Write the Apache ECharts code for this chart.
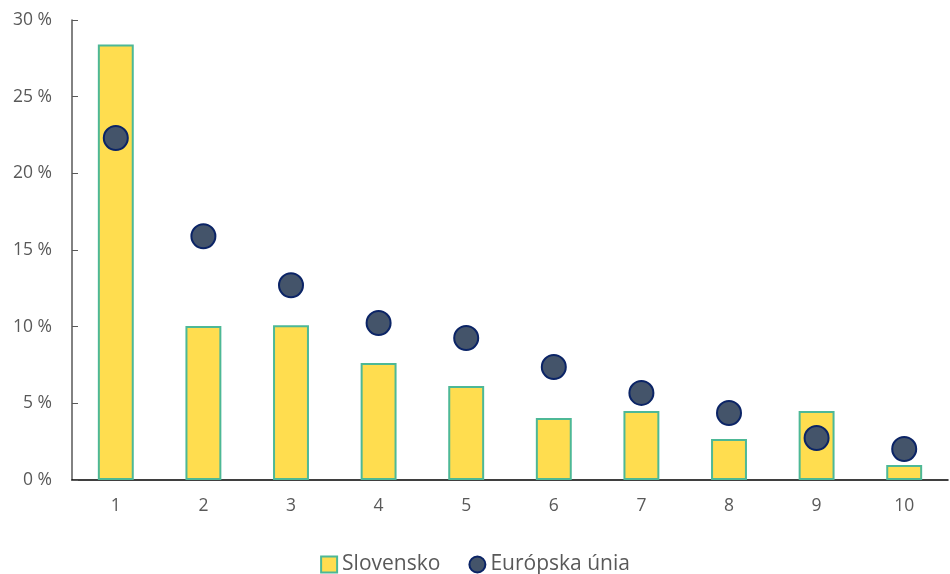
<!DOCTYPE html>
<html>
<head>
<meta charset="utf-8">
<script src="https://cdn.jsdelivr.net/npm/echarts@6/dist/echarts.min.js"></script>
<style>
  html, body { margin: 0; padding: 0; background: #fff; }
  #chart { width: 950px; height: 574px; }
</style>
</head>
<body>
<div id="chart"></div>
<script>
const categories = ['1', '2', '3', '4', '5', '6', '7', '8', '9', '10'];
const slovensko = [28.4, 10.05, 10.1, 7.63, 6.13, 4.04, 4.5, 2.67, 4.5, 0.98];
const eu = [22.3, 15.9, 12.7, 10.24, 9.26, 7.37, 5.68, 4.37, 2.74, 2.02];
const yTicks = [0, 5, 10, 15, 20, 25, 30];

const font = '"Open Sans", "Noto Sans", sans-serif';
const chart = echarts.init(document.getElementById('chart'));

chart.setOption({
  animation: false,
  textStyle: { fontFamily: font },
  grid: { left: 72, right: 2, top: 20, bottom: 94, containLabel: false },
  legend: {
    top: 549,
    left: 'center',
    itemGap: 28,
    itemWidth: 16,
    itemHeight: 16,
    textStyle: { fontFamily: font, fontSize: 21, color: '#595959' },
    data: [
      { name: 'Slovensko', icon: 'rect' },
      { name: 'Európska únia', icon: 'circle' }
    ]
  },
  xAxis: {
    type: 'category',
    data: categories,
    axisLine: { lineStyle: { color: '#000', width: 1.5 } },
    axisTick: { inside: true, length: 6, lineStyle: { color: '#000' } },
    axisLabel: { color: '#595959', fontSize: 17.5, margin: 17, fontFamily: font }
  },
  yAxis: {
    type: 'value',
    min: yTicks[0],
    max: yTicks[yTicks.length - 1],
    interval: 5,
    splitLine: { show: false },
    axisLine: { show: true, lineStyle: { color: '#595959', width: 1.5 } },
    axisTick: { show: true, inside: true, length: 6, lineStyle: { color: '#595959' } },
    axisLabel: {
      color: '#595959', fontSize: 17.5, margin: 20, fontFamily: font,
      formatter: v => v + ' %'
    }
  },
  series: [
    {
      name: 'Slovensko',
      type: 'bar',
      data: slovensko,
      barWidth: '41%',
      itemStyle: { color: '#FFDD4F', borderColor: '#4DB896', borderWidth: 2 }
    },
    {
      name: 'Európska únia',
      type: 'scatter',
      data: eu,
      symbol: 'circle',
      symbolSize: 24,
      itemStyle: { color: '#44546A', borderColor: '#0B2466', borderWidth: 2, opacity: 1 }
    }
  ]
});
</script>
</body>
</html>
